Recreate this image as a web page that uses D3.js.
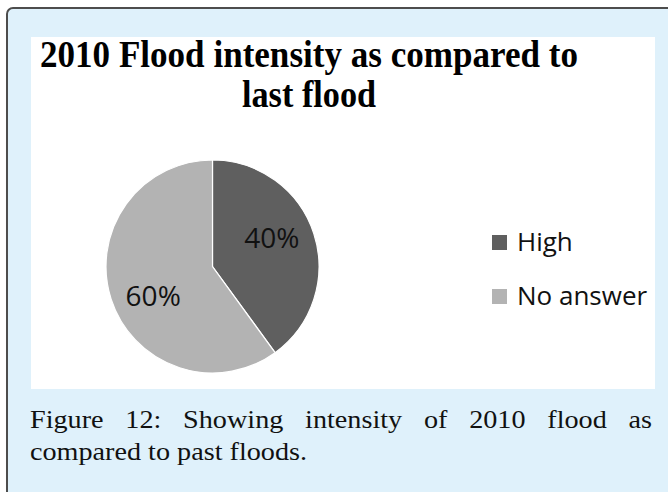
<!DOCTYPE html>
<html>
<head>
<meta charset="utf-8">
<script src="https://cdn.jsdelivr.net/npm/d3@7/dist/d3.min.js"></script>
<style>
  html, body { margin: 0; padding: 0; background: #ffffff; }
  svg { display: block; }
</style>
</head>
<body>
<svg id="chart" width="668" height="492"></svg>
<script>
// Chart data
const categories = ["High", "No answer"];
const values = [40, 60];
const sliceColors = ["#5f5f5f", "#b3b3b3"];
const titleLines = ["2010 Flood intensity as compared to", "last flood"];
const captionLines = ["Figure 12: Showing intensity of 2010 flood as", "compared to past floods."];

const svg = d3.select("#chart");

// Figure frame (light blue box with rounded border) and white chart area
svg.append("rect")
  .attr("x", 7).attr("y", 8)
  .attr("width", 720).attr("height", 540)
  .attr("rx", 6).attr("ry", 6)
  .attr("fill", "#dff1fb")
  .attr("stroke", "#4d4d4d")
  .attr("stroke-width", 2);

svg.append("rect")
  .attr("x", 31).attr("y", 37)
  .attr("width", 624).attr("height", 352)
  .attr("fill", "#ffffff");

// Title: tall, slightly condensed bold serif
const titleWidths = [538, 134];
const titleBaselines = [67, 107];
svg.append("g")
  .selectAll("text")
  .data(titleLines)
  .join("text")
  .attr("transform", (d, i) => `translate(309,${titleBaselines[i]}) scale(1,1.12)`)
  .attr("text-anchor", "middle")
  .attr("font-family", "'Liberation Serif', 'Times New Roman', serif")
  .attr("font-weight", "bold")
  .attr("font-size", 33)
  .attr("fill", "#000")
  .attr("textLength", (d, i) => titleWidths[i])
  .attr("lengthAdjust", "spacingAndGlyphs")
  .text(d => d);

// Pie
const cx = 212.5, cy = 266.5, radius = 106.5;
const pie = d3.pie().sort(null).value(d => d.value);
const arcs = pie(categories.map((c, i) => ({ name: c, value: values[i], color: sliceColors[i] })));
const arc = d3.arc().innerRadius(0).outerRadius(radius);

const pieG = svg.append("g").attr("transform", `translate(${cx},${cy})`);
pieG.selectAll("path")
  .data(arcs)
  .join("path")
  .attr("d", arc)
  .attr("fill", d => d.data.color)
  .attr("stroke", "#ffffff")
  .attr("stroke-width", 1.2);

// Percentage labels, set a little inward of the slice mid-angle
const total = d3.sum(values);
const labelR = 66;
pieG.selectAll("text")
  .data(arcs)
  .join("text")
  .attr("x", d => Math.sin((d.startAngle + d.endAngle) / 2 - 0.14) * labelR)
  .attr("y", d => -Math.cos((d.startAngle + d.endAngle) / 2 - 0.14) * labelR)
  .attr("dy", "0.36em")
  .attr("text-anchor", "middle")
  .attr("font-family", "'Open Sans', sans-serif")
  .attr("font-size", 28)
  .attr("fill", "#111")
  .text(d => Math.round(d.data.value / total * 100) + "%");

// Legend
const legendY = d3.scalePoint().domain(categories).range([243, 297]);
const legend = svg.append("g")
  .selectAll("g")
  .data(arcs)
  .join("g")
  .attr("transform", d => `translate(492,${legendY(d.data.name)})`);
legend.append("rect")
  .attr("x", 0).attr("y", -8)
  .attr("width", 15).attr("height", 15)
  .attr("fill", d => d.data.color);
legend.append("text")
  .attr("x", 25).attr("y", 8)
  .attr("font-family", "'Open Sans', sans-serif")
  .attr("font-size", 26)
  .attr("fill", "#111")
  .text(d => d.data.name);

// Caption: first line justified across the box, second line left aligned
const capFont = "'Liberation Serif', 'Times New Roman', serif";
const capSize = 26;
const capLeft = 30, capRight = 652;
const capG = svg.append("g")
  .attr("font-family", capFont)
  .attr("font-size", capSize)
  .attr("fill", "#111");

const line2 = capG.append("text")
  .attr("x", capLeft).attr("y", 460)
  .text(captionLines[1]);
const natural2 = line2.node().getComputedTextLength();
const stretch = 277 / natural2;
line2.attr("textLength", 277).attr("lengthAdjust", "spacingAndGlyphs");

const words = captionLines[0].split(" ");
const wordNodes = words.map(w => capG.append("text").attr("y", 428).text(w));
const widths = wordNodes.map(n => n.node().getComputedTextLength() * stretch);
const gap = (capRight - capLeft - d3.sum(widths)) / (words.length - 1);
let xPos = capLeft;
wordNodes.forEach((n, i) => {
  n.attr("x", xPos)
   .attr("textLength", widths[i])
   .attr("lengthAdjust", "spacingAndGlyphs");
  xPos += widths[i] + gap;
});
</script>
</body>
</html>
